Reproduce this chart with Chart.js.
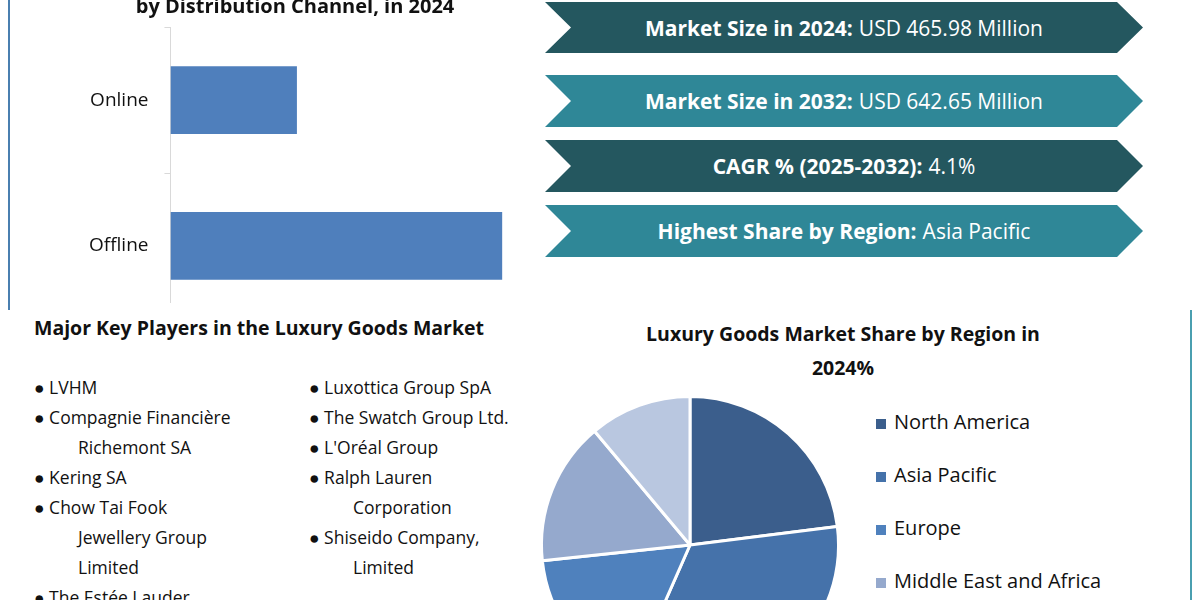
<!DOCTYPE html>
<html>
<head>
<meta charset="utf-8">
<script src="https://cdn.jsdelivr.net/npm/chart.js@4"></script>
<style>
  body { margin:0; width:1200px; height:600px; overflow:hidden; position:relative; background:#fff; font-family:"Open Sans", sans-serif; color:#111; }
  .abs { position:absolute; }
  .ribbon { position:absolute; left:545px; width:598px; color:#fff; font-size:21px; display:flex; align-items:center; justify-content:center;
            clip-path: polygon(0 0, 572px 0, 598px 50%, 572px 100%, 0 100%, 26px 50%); }
  .dark { background:#24575f; }
  .teal { background:#2f8797; }
  .ribbon b { font-weight:700; margin-right:6px; }
  .players { font-size:17.5px; line-height:30px; }
  .players div { white-space:nowrap; }
  .ind { padding-left:24px; }
  .legend div { position:absolute; left:876px; font-size:20px; white-space:nowrap; }
  .legend span { display:inline-block; width:10px; height:10px; margin-right:8px; vertical-align:middle; }
</style>
</head>
<body>
<canvas id="bar" class="abs" width="464" height="346" style="left:73px;top:0px;width:464px;height:346px"></canvas>
<div class="abs" style="left:0;top:303px;width:560px;height:40px;background:#fff"></div>
<div class="abs" style="left:8px;top:0;width:2px;height:310px;background:#4a7fb0"></div>
<div class="abs" style="left:1190px;top:310px;width:2px;height:290px;background:#4a9fb0"></div>
<div class="abs" style="left:0;width:590px;top:-8px;text-align:center;font-weight:700;font-size:20px">by Distribution Channel, in 2024</div>

<div class="ribbon dark" style="top:2px;height:51px"><b>Market Size in 2024:</b> USD 465.98 Million</div>
<div class="ribbon teal" style="top:75px;height:52px"><b>Market Size in 2032:</b> USD 642.65 Million</div>
<div class="ribbon dark" style="top:140px;height:52px"><b>CAGR % (2025-2032):</b> 4.1%</div>
<div class="ribbon teal" style="top:205px;height:52px"><b>Highest Share by Region:</b> Asia Pacific</div>

<div class="abs" style="left:34px;top:314px;font-weight:700;font-size:19.5px">Major Key Players in the Luxury Goods Market</div>
<div class="abs players" style="left:34px;top:372px">
  <div>● LVHM</div>
  <div>● Compagnie Financière</div>
  <div class="ind" style="margin-left:20px">Richemont SA</div>
  <div>● Kering SA</div>
  <div>● Chow Tai Fook</div>
  <div class="ind" style="margin-left:20px">Jewellery Group</div>
  <div class="ind" style="margin-left:20px">Limited</div>
  <div>● The Estée Lauder</div>
</div>
<div class="abs players" style="left:309px;top:372px">
  <div>● Luxottica Group SpA</div>
  <div>● The Swatch Group Ltd.</div>
  <div>● L'Oréal Group</div>
  <div>● Ralph Lauren</div>
  <div class="ind" style="margin-left:20px">Corporation</div>
  <div>● Shiseido Company,</div>
  <div class="ind" style="margin-left:20px">Limited</div>
</div>

<div class="abs" style="left:590px;width:506px;top:317px;text-align:center;font-weight:700;font-size:19.5px;line-height:34px">Luxury Goods Market Share by Region in<br>2024%</div>
<canvas id="pie" class="abs" width="308" height="308" style="left:536px;top:391px;width:308px;height:308px"></canvas>
<div class="legend" id="legend"></div>

<script>
const channels = ["Online", "Offline"];
const channelShare = [27.6, 72.4];

const regions = ["North America", "Asia Pacific", "Europe", "Middle East and Africa", "South America"];
const regionShare = [23.0, 33.6, 16.7, 15.6, 11.1];
const regionColors = ["#3b5e8c", "#4572aa", "#4f81bd", "#95a9cd", "#b9c7e0"];

new Chart(document.getElementById("bar"), {
    type: "bar",
    data: {
        labels: channels,
        datasets: [{ data: channelShare, backgroundColor: "#4f7fbc", barPercentage: 0.466, categoryPercentage: 1 }]
    },
    options: {
        indexAxis: "y",
        responsive: false,
        maintainAspectRatio: false,
        animation: false,
        devicePixelRatio: 1,
        layout: { padding: 0 },
        scales: {
            x: { display: false, min: 0, max: 80 },
            y: {
                offset: true,
                ticks: { color: "#111", font: { family: "Open Sans", size: 19 }, padding: 16 },
                grid: { display: true, drawOnChartArea: false, offset: true, color: "#d9d9d9", tickLength: 6 },
                border: { color: "#d9d9d9" }
            }
        },
        plugins: { legend: { display: false }, tooltip: { enabled: false } }
    }
});

new Chart(document.getElementById("pie"), {
    type: "pie",
    data: {
        labels: regions,
        datasets: [{ data: regionShare, backgroundColor: regionColors, borderColor: "#fff", borderWidth: 3 }]
    },
    options: {
        responsive: false,
        maintainAspectRatio: false,
        animation: false,
        devicePixelRatio: 1,
        layout: { padding: 4 },
        plugins: { legend: { display: false }, tooltip: { enabled: false } }
    }
});

const legend = document.getElementById("legend");
regions.forEach((r, i) => {
    const d = document.createElement("div");
    d.style.top = (408 + i * 53) + "px";
    d.innerHTML = '<span style="background:' + regionColors[i] + '"></span>' + r;
    legend.appendChild(d);
});
</script>
</body>
</html>
